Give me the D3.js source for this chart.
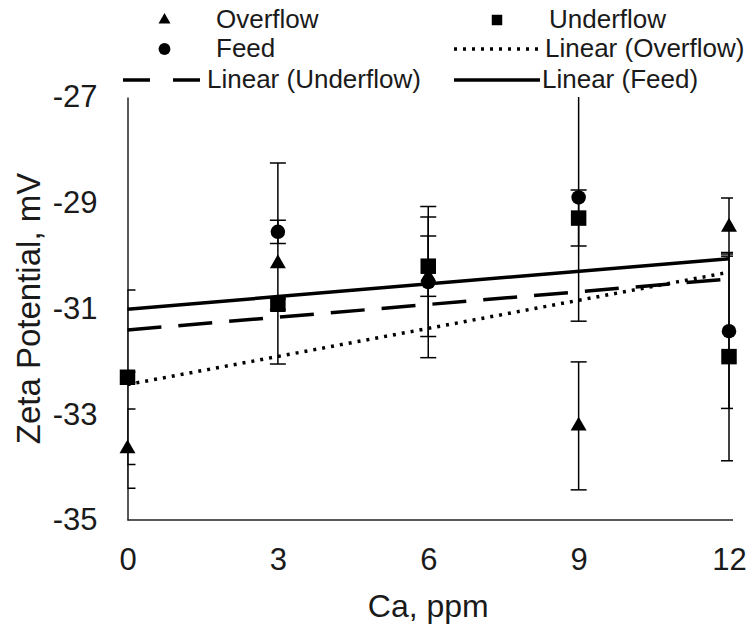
<!DOCTYPE html>
<html>
<head>
<meta charset="utf-8">
<script src="https://cdn.jsdelivr.net/npm/d3@7"></script>
<style>
  html, body { margin: 0; padding: 0; background: #fff; }
  svg { display: block; }
  text { font-family: "Liberation Sans", Arial, sans-serif; fill: #1a1a1a; }
</style>
</head>
<body>
<svg id="chart" width="752" height="631"></svg>
<script>
// ---- data ----
const caPpm = [0, 3, 6, 9, 12];
const overflow = [-33.65, -30.15, -30.4, -33.22, -29.46];
const overflowErr = [0.75, 1.9, 1.13, 1.21, 0.55];
const underflow = [-32.3, -30.92, -30.2, -29.29, -31.91];
const underflowErr = [1.65, 0.1, 0.57, 0.53, 1.97];
const feed = [-32.3, -29.55, -30.5, -28.9, -31.43];
const feedErr = [0.1, 0.22, 1.43, 2.34, 1.46];
const xTicks = [0, 3, 6, 9, 12];
const yTicks = [-35, -33, -31, -29, -27];
const xTitle = "Ca, ppm";
const yTitle = "Zeta Potential, mV";

// ---- layout ----
const svg = d3.select("#chart");
const plot = { left: 127.5, right: 729, top: 97, bottom: 520 };
const x = d3.scaleLinear().domain([0, 12]).range([plot.left, plot.right]);
const y = d3.scaleLinear().domain([-35, -27]).range([plot.bottom, plot.top]);

svg.append("defs").append("clipPath").attr("id", "plotclip")
  .append("rect").attr("x", plot.left).attr("y", plot.top)
  .attr("width", plot.right - plot.left + 4).attr("height", plot.bottom - plot.top);

const fmt = d => String(d);
// axes
const yAxis = svg.append("g").attr("transform", `translate(${plot.left},0)`)
  .call(d3.axisLeft(y).tickValues(yTicks).tickSize(0).tickSizeOuter(0).tickPadding(30).tickFormat(fmt));
const xAxis = svg.append("g").attr("transform", `translate(0,${plot.bottom})`)
  .call(d3.axisBottom(x).tickValues(xTicks).tickSize(0).tickSizeOuter(0).tickPadding(28).tickFormat(fmt));
[yAxis, xAxis].forEach(g => {
  g.select(".domain").attr("stroke", "#222").attr("stroke-width", 1.5);
  g.selectAll("text").attr("font-size", 31).attr("fill", "#1a1a1a")
    .attr("font-family", '"Liberation Sans", Arial, sans-serif');
});
xAxis.select(".domain").attr("d", `M${plot.left},0H${plot.right + 4}`);

// axis titles
svg.append("text").attr("x", (plot.left + plot.right) / 2).attr("y", 617)
  .attr("text-anchor", "middle").attr("font-size", 32).text(xTitle);
svg.append("text").attr("transform", `translate(40,${(plot.top + plot.bottom) / 2}) rotate(-90)`)
  .attr("text-anchor", "middle").attr("font-size", 33).text(yTitle);

// series
const series = [
  { name: "Overflow", vals: overflow, err: overflowErr, sym: d3.symbolTriangle, size: 110, lsize: 62, dash: "3,6", cap: "butt" },
  { name: "Underflow", vals: underflow, err: underflowErr, sym: d3.symbolSquare, size: 240, lsize: 110, dash: "34,17", cap: "butt" },
  { name: "Feed", vals: feed, err: feedErr, sym: d3.symbolCircle, size: 165, lsize: 110, dash: null, cap: "butt" }
];

function fit(xs, ys) {
  const mx = d3.mean(xs), my = d3.mean(ys);
  const b = d3.sum(xs, (xv, i) => (xv - mx) * (ys[i] - my)) / d3.sum(xs, xv => (xv - mx) ** 2);
  return { b, a: my - b * mx };
}

const errG = svg.append("g").attr("clip-path", "url(#plotclip)");
const lineG = svg.append("g");
const markG = svg.append("g");

series.forEach(s => {
  const pts = caPpm.map((c, i) => ({ c, v: s.vals[i], e: s.err[i] }));
  // error bars
  const eb = errG.selectAll(null).data(pts).enter().append("g")
    .attr("stroke", "#000").attr("stroke-width", 1.5);
  eb.append("line").attr("x1", d => x(d.c)).attr("x2", d => x(d.c))
    .attr("y1", d => y(d.v + d.e)).attr("y2", d => y(d.v - d.e));
  eb.append("line").attr("x1", d => x(d.c) - 8).attr("x2", d => x(d.c) + 8)
    .attr("y1", d => y(d.v + d.e)).attr("y2", d => y(d.v + d.e));
  eb.append("line").attr("x1", d => x(d.c) - 8).attr("x2", d => x(d.c) + 8)
    .attr("y1", d => y(d.v - d.e)).attr("y2", d => y(d.v - d.e));
  // trend line
  const f = fit(caPpm, s.vals);
  const dom = d3.extent(caPpm);
  lineG.append("path")
    .attr("d", d3.line()(dom.map(c => [x(c), y(f.a + f.b * c)])))
    .attr("fill", "none").attr("stroke", "#000").attr("stroke-width", 3.5)
    .attr("stroke-dasharray", s.dash).attr("stroke-linecap", s.cap);
  s.fit = f;
});

series.forEach(s => {
  markG.selectAll(null).data(caPpm.map((c, i) => ({ c, v: s.vals[i] }))).enter()
    .append("path").attr("d", d3.symbol(s.sym, s.size))
    .attr("transform", d => `translate(${x(d.c)},${y(d.v)})`).attr("fill", "#000");
});

// legend
const leg = svg.append("g");
const legendFont = 26;
const rows = [19, 48, 79];
const legendItems = [
  { kind: "marker", s: series[0], label: "Overflow", row: 0, x0: 123, x1: 206, tx: 216 },
  { kind: "marker", s: series[1], label: "Underflow", row: 0, x0: 454, x1: 540, tx: 549 },
  { kind: "marker", s: series[2], label: "Feed", row: 1, x0: 123, x1: 206, tx: 216 },
  { kind: "line", s: series[0], label: "Linear (Overflow)", row: 1, x0: 454, x1: 540, tx: 545 },
  { kind: "line", s: series[1], label: "Linear (Underflow)", row: 2, x0: 123, x1: 206, tx: 207 },
  { kind: "line", s: series[2], label: "Linear (Feed)", row: 2, x0: 454, x1: 540, tx: 542 }
];
legendItems.forEach(it => {
  const yy = rows[it.row];
  if (it.kind === "marker") {
    leg.append("path").attr("d", d3.symbol(it.s.sym, it.s.lsize))
      .attr("transform", `translate(${(it.x0 + it.x1) / 2},${yy + 1})`).attr("fill", "#000");
  } else {
    leg.append("line").attr("x1", it.x0).attr("x2", it.x1).attr("y1", yy + 1).attr("y2", yy + 1)
      .attr("stroke", "#000").attr("stroke-width", 3.5)
      .attr("stroke-dasharray", it.s.dash === "34,17" ? "27,23" : it.s.dash);
  }
  leg.append("text").attr("x", it.tx).attr("y", yy).attr("dy", "0.35em")
    .attr("font-size", legendFont).text(it.label);
});
</script>
</body>
</html>
